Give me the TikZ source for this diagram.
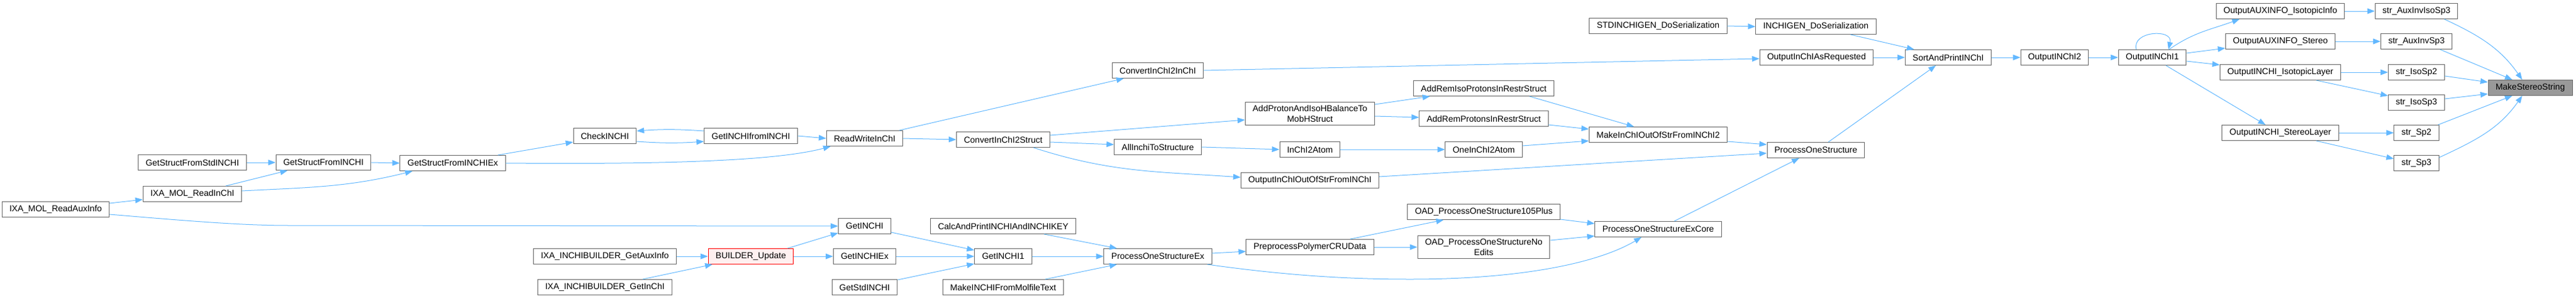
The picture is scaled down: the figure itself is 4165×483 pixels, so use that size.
\documentclass[tikz,border=0pt]{standalone}
\usepackage{fontspec}
\setmainfont{Liberation Sans}
\usepackage{xcolor}
\usepackage{tikz}
\usetikzlibrary{arrows.meta, positioning}
\definecolor{edgeblue}{HTML}{63B8FF}
\definecolor{boxgrey}{HTML}{666666}
\definecolor{selgrey}{HTML}{999999}
\definecolor{truncred}{HTML}{FF0000}
\definecolor{truncfill}{HTML}{FFF0F0}

\begin{document}
\begin{tikzpicture}[x=1pt, y=-1pt,
    fnbox/.style={draw=boxgrey, fill=white, line width=1pt, rectangle, minimum height=25pt,
      inner xsep=12pt, inner ysep=5pt, align=center, font=\fontsize{14}{17}\selectfont},
    truncbox/.style={fnbox, draw=truncred, fill=truncfill},
    selbox/.style={fnbox, fill=selgrey},
    callarrow/.style={draw=edgeblue, line width=1pt, -{Triangle[length=12pt,width=9pt]}}]

      \useasboundingbox (0,0) rectangle (4165,483);

      % callers, left part
      \node[fnbox] (rai)   at (90,339)   {IXA\_MOL\_ReadAuxInfo};
      \node[fnbox] (gsstd) at (311,263)  {GetStructFromStdINCHI};
      \node[fnbox] (rmi)   at (311,314)  {IXA\_MOL\_ReadInChI};
      \node[fnbox] (gsfi)  at (523,263)  {GetStructFromINCHI};
      \node[fnbox] (gsex)  at (732,264)  {GetStructFromINCHIEx};
      \node[fnbox] (chk)   at (978,220)  {CheckINCHI};
      \node[fnbox] (gifi)  at (1214,220) {GetINCHIfromINCHI};
      \node[fnbox] (rwi)   at (1398,224) {ReadWriteInChI};
      \node[fnbox] (bga)   at (978,415)  {IXA\_INCHIBUILDER\_GetAuxInfo};
      \node[fnbox] (bgi)   at (978,465)  {IXA\_INCHIBUILDER\_GetInChI};
      \node[truncbox] (bupd) at (1214,415) {BUILDER\_Update};
      \node[fnbox] (gi)    at (1398,366) {GetINCHI};
      \node[fnbox] (giex)  at (1398,415) {GetINCHIEx};
      \node[fnbox] (gstd)  at (1398,465) {GetStdINCHI};
      % middle part
      \node[fnbox] (c2i)   at (1872,114) {ConvertInChI2InChI};
      \node[fnbox] (c2s)   at (1622,226) {ConvertInChI2Struct};
      \node[fnbox] (ais)   at (1872,238) {AllInchiToStructure};
      \node[fnbox] (calc)  at (1622,366) {CalcAndPrintINCHIAndINCHIKEY};
      \node[fnbox] (gi1)   at (1622,415) {GetINCHI1};
      \node[fnbox] (mkmol) at (1622,465) {MakeINCHIFromMolfileText};
      \node[fnbox] (pose)  at (1872,415) {ProcessOneStructureEx};
      \node[fnbox] (addph) at (2118,184) {AddProtonAndIsoHBalanceTo\\MobHStruct};
      \node[fnbox] (i2a)   at (2118,242) {InChI2Atom};
      \node[fnbox] (oios)  at (2118,292) {OutputInChIOutOfStrFromINChI};
      \node[fnbox] (ppcru) at (2118,400) {PreprocessPolymerCRUData};
      \node[fnbox] (stdgen) at (2681,42) {STDINCHIGEN\_DoSerialization};
      \node[fnbox] (arip)  at (2399,143) {AddRemIsoProtonsInRestrStruct};
      \node[fnbox] (arp)   at (2399,192) {AddRemProtonsInRestrStruct};
      \node[fnbox] (oi2a)  at (2399,242) {OneInChI2Atom};
      \node[fnbox] (oad105) at (2399,343) {OAD\_ProcessOneStructure105Plus};
      \node[fnbox] (oadne) at (2399,400) {OAD\_ProcessOneStructureNo\\Edits};
      \node[fnbox] (mk2)   at (2681,218) {MakeInChIOutOfStrFromINChI2};
      \node[fnbox] (core)  at (2681,371) {ProcessOneStructureExCore};
      \node[fnbox] (gen)   at (2936,43)  {INCHIGEN\_DoSerialization};
      \node[fnbox] (oar)   at (2937,93)  {OutputInChIAsRequested};
      \node[fnbox] (pos)   at (2936,243) {ProcessOneStructure};
      % right part
      \node[fnbox] (sap)   at (3150,93)  {SortAndPrintINChI};
      \node[fnbox] (oi2)   at (3322,93)  {OutputINChI2};
      \node[fnbox] (oi1)   at (3480,93)  {OutputINChI1};
      \node[fnbox] (auxiso) at (3687,18) {OutputAUXINFO\_IsotopicInfo};
      \node[fnbox] (auxst) at (3687,67)  {OutputAUXINFO\_Stereo};
      \node[fnbox] (isol)  at (3687,117) {OutputINCHI\_IsotopicLayer};
      \node[fnbox] (stl)   at (3687,215) {OutputINCHI\_StereoLayer};
      \node[fnbox] (sais)  at (3907,18)  {str\_AuxInvIsoSp3};
      \node[fnbox] (sas)   at (3907,67)  {str\_AuxInvSp3};
      \node[fnbox] (sis2)  at (3907,117) {str\_IsoSp2};
      \node[fnbox] (sis3)  at (3907,166) {str\_IsoSp3};
      \node[fnbox] (ssp2)  at (3907,215) {str\_Sp2};
      \node[fnbox] (ssp3)  at (3907,264) {str\_Sp3};
      \node[selbox] (mss)  at (4091,142) {MakeStereoString};

      % calls, left part
      \draw[callarrow] (gsstd.east) -- (gsfi.west);
      \draw[callarrow] (gsfi.east) -- (gsex.west);
      \draw[callarrow] ([xshift=54pt]rmi.north) -- ([xshift=-58pt]gsfi.south);
      \draw[callarrow] ([yshift=5pt]rmi.east) to[out=3, in=194] ([xshift=-65pt]gsex.south);
      \draw[callarrow] ([yshift=10pt]rai.east) -- ([yshift=-9pt]rmi.west);
      \draw[callarrow] ([yshift=-8pt]rai.east) .. controls (330,360) and (400,365) .. (470,365) -- (gi.west);
      \draw[callarrow] ([xshift=73pt]gsex.north) -- ([yshift=-10pt]chk.west);
      \draw[callarrow] (gsex.east) .. controls (1050,266) and (1250,262) .. ([xshift=-55pt]rwi.south);
      \draw[callarrow] ([yshift=-9pt]chk.east) to[bend right=4] ([yshift=-9pt]gifi.west);
      \draw[callarrow] ([yshift=8pt]gifi.west) to[bend right=4] ([yshift=8pt]chk.east);
      \draw[callarrow] (gifi.east) -- (rwi.west);
      \draw[callarrow] ([xshift=-10pt]bupd.north east) -- ([yshift=-11pt]gi.west);
      \draw[callarrow] (bupd.east) -- (giex.west);
      \draw[callarrow] (bga.east) -- (bupd.west);
      \draw[callarrow] ([xshift=61pt]bgi.north) -- ([xshift=-62pt]bupd.south);
      \draw[callarrow] ([yshift=-10pt]gi.east) -- ([yshift=10pt]gi1.west);
      \draw[callarrow] (giex.east) -- (gi1.west);
      \draw[callarrow] ([yshift=12pt]gstd.east) -- ([yshift=-12pt]gi1.west);

      % calls, middle part
      \draw[callarrow] ([xshift=56pt]rwi.north) -- ([xshift=-55pt]c2i.south);
      \draw[callarrow] (rwi.east) -- (c2s.west);
      \draw[callarrow] ([yshift=7pt]c2s.east) -- ([yshift=-10pt]addph.west);
      \draw[callarrow] ([yshift=-4pt]c2s.east) -- ([yshift=4pt]ais.west);
      \draw[callarrow] ([xshift=49pt]c2s.south) to[out=-18, in=176] ([yshift=5pt]oios.west);
      \draw[callarrow] (c2i.east) -- ([yshift=-2pt]oar.west);
      \draw[callarrow] (ais.east) -- (i2a.west);
      \draw[callarrow] ([yshift=15pt]addph.east) -- ([xshift=-87pt]arip.south);
      \draw[callarrow] ([yshift=-4pt]addph.east) -- ([yshift=2pt]arp.west);
      \draw[callarrow] (i2a.east) -- (oi2a.west);
      \draw[callarrow] ([xshift=74pt]arip.south) -- ([xshift=-39pt]mk2.north);
      \draw[callarrow] ([yshift=-10pt]arp.east) -- ([yshift=9pt]mk2.west);
      \draw[callarrow] ([yshift=6pt]oi2a.east) -- ([yshift=-10pt]mk2.west);
      \draw[callarrow] ([xshift=66pt]calc.south) -- ([xshift=-66pt]pose.north);
      \draw[callarrow] (gi1.east) -- (pose.west);
      \draw[callarrow] ([xshift=68pt]mkmol.north) -- ([xshift=-66pt]pose.south);
      \draw[callarrow] ([yshift=5pt]pose.east) -- ([yshift=-7pt]ppcru.west);
      \draw[callarrow] ([xshift=80pt]pose.south) .. controls (2080,446) and (2180,452) .. (2280,452)
                         .. controls (2450,452) and (2580,428) .. ([xshift=-27pt]core.south);
      \draw[callarrow] ([xshift=65pt]ppcru.north) -- ([xshift=-65pt]oad105.south);
      \draw[callarrow] (ppcru.east) -- (oadne.west);
      \draw[callarrow] ([yshift=-12pt]oad105.east) -- ([yshift=9pt]core.west);
      \draw[callarrow] ([yshift=11pt]oadne.east) -- ([yshift=-11pt]core.west);
      \draw[callarrow] ([yshift=-11pt]mk2.east) -- ([yshift=9pt]pos.west);
      \draw[callarrow] ([yshift=6pt]oios.east) -- ([yshift=-5pt]pos.west);
      \draw[callarrow] ([xshift=26pt]core.north) -- ([xshift=-27pt]pos.south);
      \draw[callarrow] (stdgen.east) -- (gen.west);

      % calls, right part
      \draw[callarrow] ([xshift=20pt]pos.north) -- ([xshift=-20pt]sap.south);
      \draw[callarrow] ([xshift=56pt]gen.south) -- ([xshift=-55pt]sap.north);
      \draw[callarrow] (oar.east) -- (sap.west);
      \draw[callarrow] (sap.east) -- (oi2.west);
      \draw[callarrow] (oi2.east) -- (oi1.west);
      \draw[callarrow] ([xshift=-26pt]oi1.north) .. controls +(-8pt,30pt) and +(8pt,34pt) .. ([xshift=26pt]oi1.north);
      \draw[callarrow] ([xshift=27pt]oi1.north) to[out=35, in=200] ([xshift=-66pt]auxiso.south);
      \draw[callarrow] ([yshift=7pt]oi1.east) -- ([yshift=-11pt]auxst.west);
      \draw[callarrow] ([yshift=-6pt]oi1.east) -- ([yshift=12pt]isol.west);
      \draw[callarrow] ([xshift=22pt]oi1.south) -- ([xshift=-24pt]stl.north);
      \draw[callarrow] (auxiso.east) -- (sais.west);
      \draw[callarrow] (auxst.east) -- (sas.west);
      \draw[callarrow] (isol.east) -- (sis2.west);
      \draw[callarrow] ([xshift=58pt]isol.south) -- ([yshift=11pt]sis3.west);
      \draw[callarrow] (stl.east) -- (ssp2.west);
      \draw[callarrow] ([xshift=58pt]stl.south) -- ([yshift=7pt]ssp3.west);
      \draw[callarrow] ([xshift=45pt]sais.south) to[out=-25, in=125] ([xshift=-13pt]mss.north);
      \draw[callarrow] ([xshift=38pt]sas.south) -- ([xshift=-29pt]mss.north);
      \draw[callarrow] ([yshift=-6pt]sis2.east) -- ([yshift=9pt]mss.west);
      \draw[callarrow] ([yshift=6pt]sis3.east) -- ([yshift=-10pt]mss.west);
      \draw[callarrow] ([xshift=35pt]ssp2.north) -- ([xshift=-29pt]mss.south);
      \draw[callarrow] ([yshift=9pt]ssp3.east) to[out=25, in=235] ([xshift=-13pt]mss.south);
    \end{tikzpicture}
\end{document}
